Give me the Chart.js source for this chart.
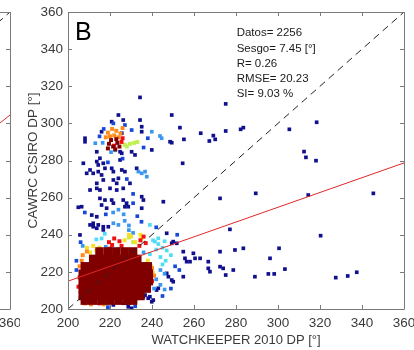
<!DOCTYPE html>
<html>
<head>
<meta charset="utf-8">
<script src="https://cdn.jsdelivr.net/npm/chart.js@4.4.1/dist/chart.umd.min.js"></script>
<style>
  html, body { margin: 0; padding: 0; background: #ffffff; }
  #wrap { position: relative; width: 414px; height: 350px; overflow: hidden; background: #fff; }
  #cA { position: absolute; left: -394px; top: 0; }
  #cB { position: absolute; left: 0; top: 0; }
</style>
</head>
<body>
<div id="wrap">
  <canvas id="cA" width="414" height="350"></canvas>
  <canvas id="cB" width="414" height="350"></canvas>
</div>
<script>
// ---------------- DATA ----------------
const xTickValues = [200, 220, 240, 260, 280, 300, 320, 340, 360];
const yTickValues = [200, 220, 240, 260, 280, 300, 320, 340, 360];
const xAxisTitle = 'WATCHKEEPER 2010 DP [°]';
const yAxisTitle = 'CAWRC CSIRO DP [°]';
const panelLabel = 'B';
const statsLines = ['Datos= 2256', 'Sesgo= 7.45 [°]', 'R= 0.26', 'RMSE= 20.23', 'SI= 9.03 %'];

// regression line (panel B) and 1:1 line
const fitLine = [[200, 215.0], [360, 278.7]];
const oneToOne = [[200, 200], [360, 360]];
// neighbour panel A (only its right edge is visible)
const fitLineA = [[250, 205.5], [360, 304.5]];

// density-coloured scatter points (jet colormap classes)
const navyPts = [
  [224,304.5],[220.8,300.9],[226.3,301.8],[234.3,301.8],[235.1,298.2],[249.4,304.5],[235.1,295.5],
  [248.6,290.1],[249.4,289.6],[208.1,292],[208.1,290.1],[216,295.5],[225.6,294.7],[213.7,284.7],
  [215.2,281.2],[224.8,284.7],[225.6,283.9],[224.8,280.3],[230.3,284.7],[231.9,283],[239.9,285.7],
  [207.3,278.5],[213.7,279.4],[214.4,277.6],[216.8,278.5],[217.6,275.8],[210.5,274.9],[208.9,273.1],
  [212,273.1],[214.4,274],[216,272.2],[220.8,275.8],[221.6,274],[225.6,274.9],[227.1,274],[232.7,275.8],
  [221.6,269.5],[224,270.4],[223.2,267.7],[213.7,267.7],[216.8,269.5],[210.5,264.1],[213.7,265],
  [215.2,264.1],[220,265],[223.2,264.1],[226.3,265],[229.5,267.7],[235.1,260.5],[235.9,258.7],
  [215.2,259.6],[217.6,258.7],[220.8,258.7],[216,256],[218.4,254.3],[221.6,257],[226.3,258.7],
  [227.1,255.1],[245.4,257.8],[206.5,255.1],[235.1,254.3],[211.3,250.6],[213.7,249.7],[212,246.2],
  [214.4,245.3],[210.5,245.3],[204.9,254.8],[205.7,239.9],
  [234.3,314],[253.3,297.7],[255.2,291.4],[254.6,278.5],[263.2,294.7],[267.3,290.5],[269.2,293.4],
  [270.1,291.4],[275.1,310.5],[275.1,295.9],[282.2,296.8],[283.5,297.7],[305.4,296.8],[318.4,300.6],
  [312.4,284.8],[313.3,281.7],[318.1,279.9],[272.4,259.6],[289.4,262.3],[314.4,261.4],[345.4,262.3],
  [320.3,239.5],[300.5,232.7],[296.2,227.3],[303.3,221.5],[295.4,218.9],[298.2,218.9],[327.5,216.9],
  [333.2,217.8],[337.5,219.8],
  [216.8,244.3],[212,244.3],[213.7,243.5],[216.8,242.6],[219.2,244.3],[227.9,257],[228.7,255.1],
  [247,240.8],[249.4,235.4],[250.1,236.3],[251.8,235.4],[254.9,230.9],[255.7,227.3],[256.5,225.5],
  [258.1,225.5],[259.7,230],[260.5,227.3],[262.9,227.3],[266.8,225.5],[272.4,230.9],[279.5,231.8],
  [283.5,232.7],[277.1,242.9],[266.8,221.9],[267.6,220.1],[272.4,222.8],[273.9,221.9],[275.1,218.3],
  [278.7,221],[289,217.4],[254.9,217.4],[247,219.2],[247.8,217.4],[249.4,215.6],[250.1,214.7],
  [243,211.2],[242.2,210.2],[236.7,207.5],[238.2,205.8],[239,206.6],[240.6,204.8],[227.9,203.1],
  [228.7,201.2],[226.3,203.1],[221.6,202.2],[230.3,200.4],[235.9,206.6],[239.9,203.9]
];
const bluePts = [
  [221.6,300],[227.1,299.1],[230.3,296.4],[217,297],[215,293],[238,292],[236,287],[226,281],
  [219,279],[228,270],[231,262],[208,252],[233,250],[235,247],[218,251],[231,257],[242,244],
  [252,240],[251,223],[253,221],[249,211],[245,207],[232,201.5],[219,201],[204,221],[204,226],[206,236]
];
const lightBluePts = [
  [213,289.3],[216.5,289.5],[220.5,284.5],[222.5,285.5],[243.8,293.2],[244.6,292],[239.9,295.5],
  [233.5,274],[235.1,273.1],[236.7,274],[237.5,271.3],[221.5,252],[224,253.5],[226.5,251],[227,247.5],
  [229,245],[221.6,246.2],[224,245.3],[229,242.5],[231,241],[242,216],[244,213],[246,210.5],[241,211],
  [244,221],[246,219],[207,234],[218,233.5],[236,230.5]
];
const cyanPts = [
  [221,233.5],[224,232.5],[240.5,237],[243,235],[245,233],[242,232],[246,236.5],[244,228],[246.5,226],
  [249,229],[247,231.5],[245,224],[239,245.3],[241.4,236.3],[243,238.1],[216,238],[217.5,240.5],[213.5,237.5],
  [239,229.5]
];
const yellowGreenPts = [
  [227,288.5],[229.5,289],[231.5,289.5],[233,290],[228,287.5],[231,236],[229,238.5]
];
const yellowPts = [
  [209,233],[212,234],[210.5,230.5],[213.5,231.5],[227,237],[230,239],[232,236],[229,240],[235,238],
  [234.5,240],[238,226],[239.5,223],[240.5,219.5],[239,216.5],[215,233]
];
const orangePts = [
  [207,229],[206.5,226],[205.5,223],[209,231],[208,203],[211,202.5],[214,203.5],[217,202.5],[210,205],
  [206,206],[240,222],[241,218],[239.5,214.5],
  [219,295],[221,297],[223,296],[225,294.5],[218,292.5],[222,293.5],[226,297.5],[220,293],[224,292.5]
];
const redPts = [
  [219.5,236],[222,238],[224.5,236.5],[221,234.5],[225.5,234],[220,232.5],[234.5,237],[237,235.5],
  [236,239],[234,234],[205.5,217],[205,212],[215,203],[218.5,203.5],[238.5,211],[240,215],
  [222,288],[225.5,290],[226,292]
];
const darkRedPts = [
  [219.5,289],[221.5,287.5],[223.5,289.5],[220.5,291],[223,291.5],[224.5,287.5],[219,286.5],[222.5,286]
];
// densest core (very many overlapping points)
const darkRedCore = [
  [215,231],[219,231],[223,231],[227,231],[231,231],
  [212,227],[215.5,227],[219,227],[222.5,227],[226,227],[229.5,227],[233,227],
  [208,223],[211.5,223],[215,223],[218.5,223],[222,223],[225.5,223],[229,223],[232.5,223],[236,223],[238,223],
  [207,219],[210.5,219],[214,219],[217.5,219],[221,219],[224.5,219],[228,219],[231.5,219],[235,219],[238.5,219],
  [207,215],[210.5,215],[214,215],[217.5,215],[221,215],[224.5,215],[228,215],[231.5,215],[235,215],[238.5,215],
  [207,211],[210.5,211],[214,211],[217.5,211],[221,211],[224.5,211],[228,211],[231.5,211],[235,211],[237.5,211],
  [207,207],[210.5,207],[214,207],[217.5,207],[221,207],[224.5,207],[228,207],[231.5,207],[234.5,207],
  [208,204.5],[212,204.5],[216,204.5],[220,204.5],[224,204.5],[228,204.5],[231,204.5]
];

// ---------------- CHART ----------------
const FONT = "'Liberation Sans', Arial, Helvetica, sans-serif";
const TXT = '#3a3a3a';
const BOX = '#7a7a7a';
const toXY = arr => arr.map(([x, y]) => ({x, y}));

const boxPlugin = {
  id: 'boxTicks',
  afterDatasetsDraw(chart, args, opts) {
    const {ctx, chartArea: {left, right, top, bottom}, scales: {x, y}} = chart;
    ctx.save();
    ctx.strokeStyle = BOX;
    ctx.lineWidth = 1;
    ctx.beginPath();
    ctx.rect(Math.round(left) + 0.5, Math.round(top) + 0.5, Math.round(right - left), Math.round(bottom - top));
    ctx.stroke();
    const L = 4;
    ctx.beginPath();
    xTickValues.forEach(v => {
      const p = Math.round(x.getPixelForValue(v)) + 0.5;
      ctx.moveTo(p, bottom); ctx.lineTo(p, bottom - L);
      ctx.moveTo(p, top); ctx.lineTo(p, top + L);
    });
    yTickValues.forEach(v => {
      const p = Math.round(y.getPixelForValue(v)) + 0.5;
      ctx.moveTo(left, p); ctx.lineTo(left + L, p);
      ctx.moveTo(right, p); ctx.lineTo(right - L, p);
    });
    ctx.stroke();
    ctx.restore();
  },
  afterDraw(chart, args, opts) {
    if (!opts.annotate) return;
    const {ctx, scales: {x, y}} = chart;
    ctx.save();
    ctx.fillStyle = '#000';
    ctx.textBaseline = 'alphabetic';
    ctx.font = '25px ' + FONT;
    ctx.fillText(panelLabel, x.getPixelForValue(203.3), y.getPixelForValue(344.9));
    ctx.fillStyle = '#1a1a1a';
    ctx.font = '11.5px ' + FONT;
    ctx.textBaseline = 'middle';
    const x0 = x.getPixelForValue(280.3);
    statsLines.forEach((s, i) => {
      ctx.fillText(s, x0, y.getPixelForValue(348.6 - i * 8.2));
    });
    ctx.restore();
  }
};

function makeOptions(annotate) {
  return {
    responsive: false,
    animation: false,
    devicePixelRatio: 1,
    layout: { padding: { left: 0, right: 10, top: 12, bottom: 0 } },
    plugins: {
      legend: { display: false },
      tooltip: { enabled: false },
      boxTicks: { annotate }
    },
    scales: {
      x: {
        type: 'linear', min: 200, max: 360,
        afterFit: s => { s.height = 41; s.paddingLeft = 0; s.paddingRight = 0; },
        afterBuildTicks: s => { s.ticks = xTickValues.map(v => ({value: v})); },
        grid: { display: false, drawTicks: false },
        border: { display: false },
        ticks: { color: TXT, font: { family: FONT, size: 13.5 }, padding: 6, maxRotation: 0 },
        title: { display: annotate, text: xAxisTitle, color: TXT, font: { family: FONT, size: 13 }, padding: { top: 0, bottom: 2 } }
      },
      y: {
        type: 'linear', min: 200, max: 360,
        afterFit: s => { s.width = 68; s.paddingTop = 0; s.paddingBottom = 0; },
        afterBuildTicks: s => { s.ticks = yTickValues.map(v => ({value: v})); },
        grid: { display: false, drawTicks: false },
        border: { display: false },
        ticks: { display: annotate, color: TXT, font: { family: FONT, size: 13.5 }, padding: 5 },
        title: { display: annotate, text: yAxisTitle, color: TXT, font: { family: FONT, size: 13.5 }, padding: { top: 25, bottom: 0 } }
      }
    }
  };
}

function pts(data, color, r, order) {
  return { type: 'scatter', data: toXY(data), pointStyle: 'rect', pointRadius: r, pointHoverRadius: r,
           backgroundColor: color, borderWidth: 0, borderColor: color, order };
}
function line(data, color, dash, order) {
  return { type: 'line', data: toXY(data), showLine: true, borderColor: color, borderWidth: 1,
           borderDash: dash, pointRadius: 0, fill: false, order };
}

new Chart(document.getElementById('cA'), {
  type: 'scatter',
  data: { datasets: [
    line(fitLineA, '#e03030', [], 0),
    line(oneToOne, '#222222', [7, 5], 1)
  ]},
  options: makeOptions(false),
  plugins: [boxPlugin]
});

new Chart(document.getElementById('cB'), {
  type: 'scatter',
  data: { datasets: [
    line(fitLine, '#e02828', [], 0),
    line(oneToOne, '#222222', [7, 5], 1),
    pts(darkRedCore, '#800000', 6, 2),
    pts(darkRedPts, '#800000', 2.8, 3),
    pts(redPts, '#f01010', 2.8, 4),
    pts(orangePts, '#ff8c1a', 2.8, 5),
    pts(yellowPts, '#f5e02a', 2.8, 6),
    pts(yellowGreenPts, '#c0f050', 2.8, 7),
    pts(cyanPts, '#4fdcf5', 2.6, 8),
    pts(lightBluePts, '#3a96f0', 2.6, 9),
    pts(bluePts, '#1848d8', 2.6, 10),
    pts(navyPts, '#10108e', 2.6, 11)
  ]},
  options: makeOptions(true),
  plugins: [boxPlugin]
});
</script>
</body>
</html>
